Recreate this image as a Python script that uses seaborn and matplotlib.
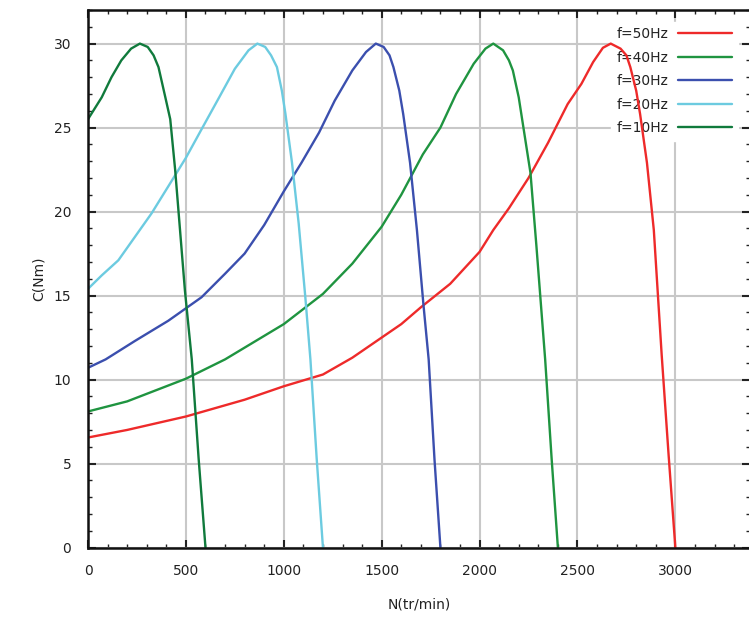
import numpy as np
import pandas as pd
import matplotlib
matplotlib.use('Agg')
import matplotlib.pyplot as plt
import seaborn as sns
from matplotlib.ticker import MultipleLocator

n_50 = [0, 200, 500, 800, 1000, 1200, 1350, 1500, 1600, 1700, 1850, 2000, 2070, 2150, 2250, 2350, 2450,
        2520, 2580, 2630, 2670, 2720, 2750, 2770, 2800, 2820, 2855, 2890, 2930, 2965, 3000]
c_50 = [6.55, 7.0, 7.8, 8.8, 9.6, 10.3, 11.3, 12.5, 13.3, 14.3, 15.7, 17.6, 18.9, 20.2, 22.0, 24.1, 26.4,
        27.6, 28.9, 29.75, 30.0, 29.7, 29.3, 28.6, 27.2, 25.8, 22.9, 18.9, 11.5, 5.6, 0]

n_40 = [0, 200, 500, 700, 900, 1000, 1200, 1350, 1500, 1600, 1710, 1800, 1880, 1930, 1970,
        2030, 2070, 2120, 2150, 2170, 2200, 2220, 2260, 2290, 2335, 2368, 2400]
c_40 = [8.1, 8.7, 10.05, 11.2, 12.6, 13.3, 15.1, 16.9, 19.1, 21.0, 23.4, 25.0, 27.0, 28.0, 28.8,
        29.7, 30.0, 29.6, 29.0, 28.4, 26.8, 25.3, 22.3, 18.0, 11.2, 5.3, 0]

n_30 = [0, 90, 240, 410, 580, 700, 800, 900, 1000, 1090, 1180, 1260, 1350, 1420, 1470,
        1510, 1540, 1560, 1590, 1610, 1645, 1680, 1713, 1740, 1770, 1800]
c_30 = [10.7, 11.2, 12.3, 13.5, 14.9, 16.3, 17.5, 19.2, 21.2, 22.9, 24.7, 26.6, 28.4, 29.5, 30.0,
        29.8, 29.3, 28.6, 27.2, 25.8, 22.9, 18.9, 14.5, 11.2, 5.2, 0]

n_20 = [0, 70, 155, 240, 325, 410, 500, 580, 670, 750, 820, 865, 905, 935, 965, 990, 1008, 1042,
        1076, 1110, 1136, 1168, 1200]
c_20 = [15.4, 16.2, 17.1, 18.5, 19.9, 21.5, 23.2, 24.9, 26.8, 28.5, 29.6, 30.0, 29.8, 29.3, 28.6, 27.2, 25.85, 22.9,
        19.3, 14.9, 11.2, 5.3, 0]

n_10 = [0, 70, 120, 170, 220, 265, 305, 335, 360, 395, 420, 445, 470, 495, 530, 565, 600]
c_10 = [25.5, 26.8, 28.0, 29.0, 29.7, 30.0, 29.8, 29.3, 28.6, 26.8, 25.5, 22.5, 18.9, 15.3, 11.2, 5.3, 0]

labels = ['f=50Hz', 'f=40Hz', 'f=30Hz', 'f=20Hz', 'f=10Hz']
couleurs = ['#ee2a2a', '#1f9440', '#3b4fae', '#6ccbe0', '#107a3c']
series = [(n_50, c_50), (n_40, c_40), (n_30, c_30), (n_20, c_20), (n_10, c_10)]

sns.set_theme(style='ticks')
plt.rcParams['font.family'] = ['DejaVu Sans']

fig = plt.figure(figsize=(7.49, 6.17), dpi=100)
ax = fig.add_axes([0.1175, 0.1126, 0.8835, 0.8712])

for (n, c), lab, col in zip(series, labels, couleurs):
    df = pd.DataFrame({'N': n, 'C': c})
    sns.lineplot(data=df, x='N', y='C', ax=ax, color=col, lw=1.7, label=lab, sort=False, zorder=3)

ax.set_xlim(0, 3380)
ax.set_ylim(0, 32)
ax.xaxis.set_major_locator(MultipleLocator(500))
ax.xaxis.set_minor_locator(MultipleLocator(100))
ax.yaxis.set_major_locator(MultipleLocator(5))
ax.yaxis.set_minor_locator(MultipleLocator(1))
ax.tick_params(which='both', direction='in', top=True, right=True, colors='#222222',
               labelsize=10, labelcolor='#222222')
ax.tick_params(which='major', length=6, width=1.5, pad=12)
ax.tick_params(which='minor', length=3, width=1)
for s in ax.spines.values():
    s.set_linewidth(1.8)
    s.set_color('#111111')
    s.set_zorder(4)
ax.grid(True, which='major', color='#c8c8c8', lw=1.5)
ax.set_axisbelow(True)

ax.set_xlabel('N(tr/min)', fontsize=10, labelpad=14, color='#222222')
ax.set_ylabel('C(Nm)', fontsize=10, labelpad=6, color='#222222')

leg = ax.legend(loc='upper right', markerfirst=False, fontsize=10, frameon=True,
                facecolor='white', edgecolor='white', framealpha=1, fancybox=False,
                handlelength=3.9, handletextpad=0.7, labelspacing=0.68,
                borderaxespad=0.85)
leg.set_zorder(2)
for t in leg.get_texts():
    t.set_color('#222222')

plt.savefig('out.png', dpi=100)
